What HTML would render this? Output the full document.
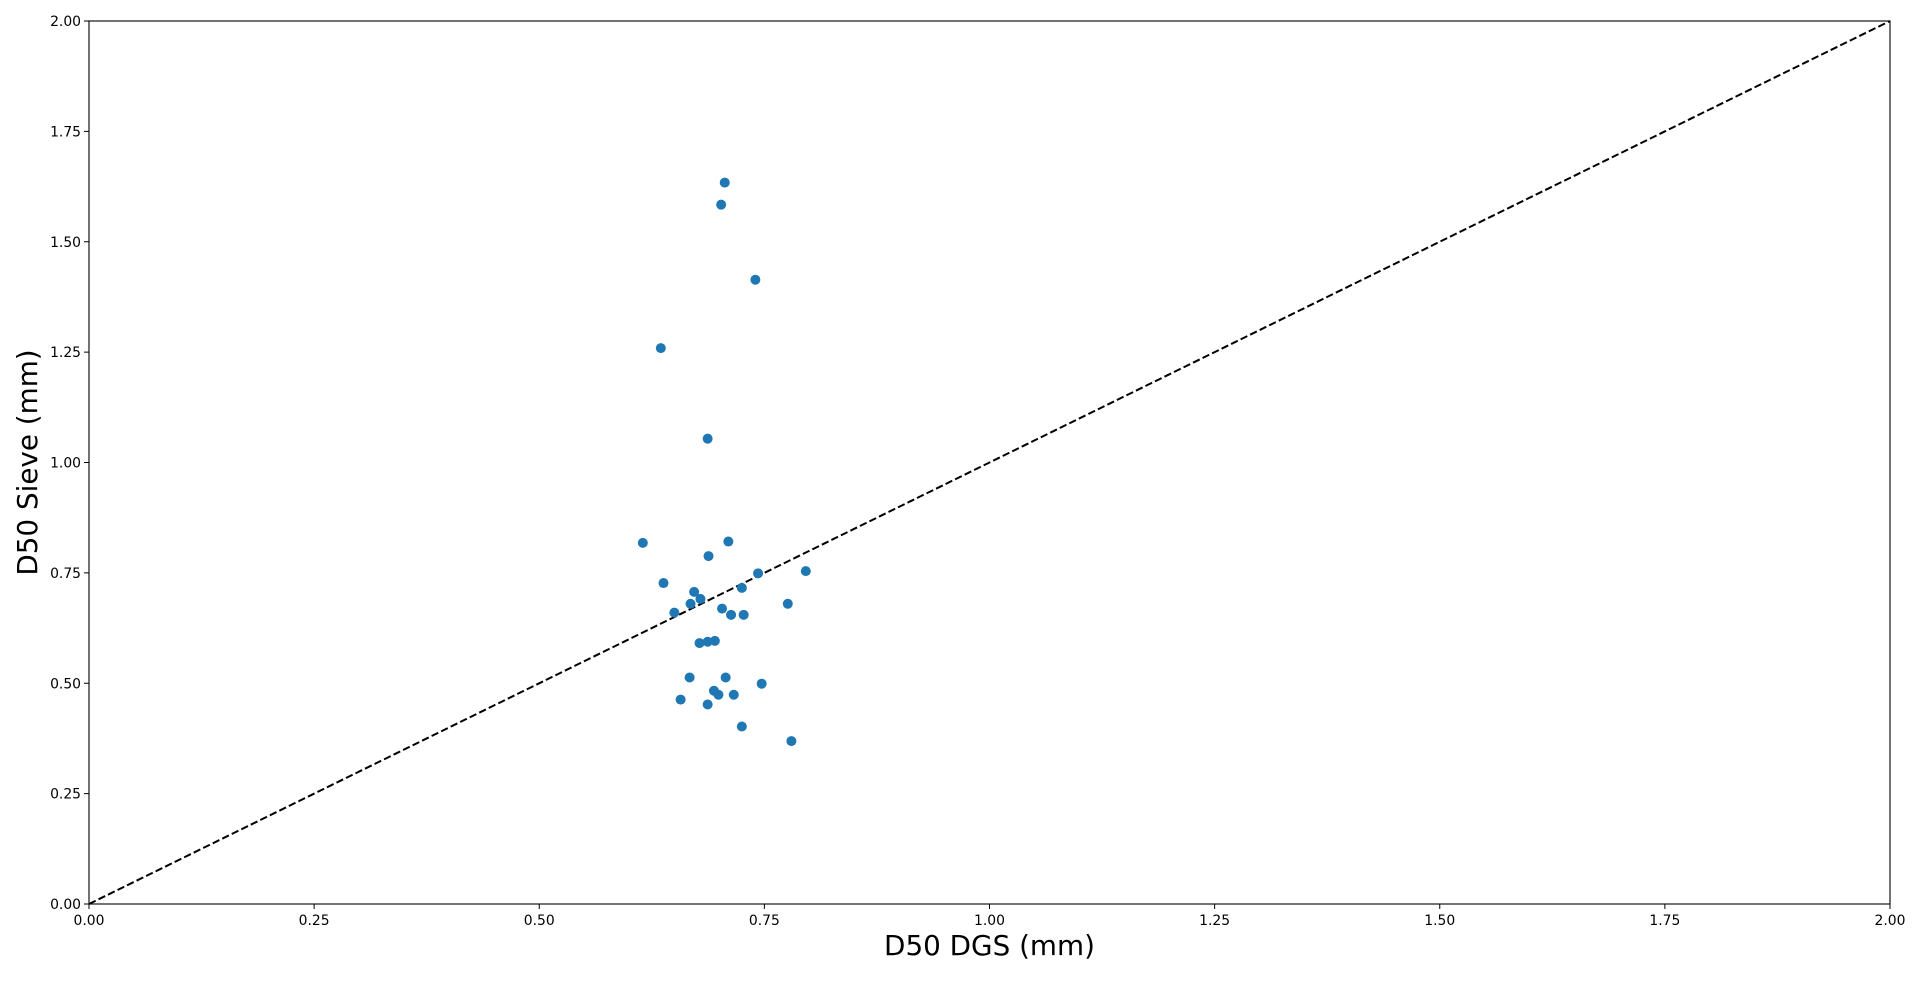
<!DOCTYPE html>
<html><head><meta charset="utf-8"><style>
html,body{margin:0;padding:0;background:#fff;}
svg text{font-family:"DejaVu Sans","Liberation Sans",sans-serif;}
</style></head><body>
<svg id="chart" width="1920" height="976" viewBox="0 0 1920 976" xmlns="http://www.w3.org/2000/svg">
<rect width="1920" height="976" fill="#fff"/>
<g id="marks"></g>
<g id="axes"></g>
</svg>
<script>
const xValues=[0.706,0.702,0.740,0.635,0.687,0.615,0.710,0.688,0.638,0.672,0.679,0.743,0.796,0.725,0.668,0.650,0.703,0.776,0.713,0.727,0.678,0.687,0.695,0.667,0.707,0.747,0.694,0.699,0.716,0.657,0.687,0.725,0.780];
const yValues=[1.634,1.584,1.414,1.259,1.054,0.818,0.821,0.788,0.727,0.707,0.691,0.749,0.754,0.716,0.680,0.660,0.669,0.680,0.655,0.655,0.591,0.594,0.596,0.513,0.513,0.499,0.483,0.474,0.474,0.463,0.452,0.402,0.369];
const xTicks=[0,0.25,0.5,0.75,1.0,1.25,1.5,1.75,2.0];
const yTicks=[0,0.25,0.5,0.75,1.0,1.25,1.5,1.75,2.0];
const L=89,R=1890,T=21,B=904;
const sx=v=>L+(v-0)/(2-0)*(R-L);
const sy=v=>B-(v-0)/(2-0)*(B-T);
const NS='http://www.w3.org/2000/svg';
const marks=document.getElementById('marks'),axes=document.getElementById('axes');
function mk(tag,attrs,parent){const e=document.createElementNS(NS,tag);for(const k in attrs)e.setAttribute(k,attrs[k]);parent.appendChild(e);return e;}
const line=mk('line',{x1:sx(0),y1:sy(0),x2:sx(2),y2:sy(2),stroke:'#000','stroke-width':2,'stroke-dasharray':'7.4,3.2'},marks);


xValues.forEach((x,i)=>{
  const c=mk('circle',{cx:sx(x),cy:sy(yValues[i]),r:5,fill:'#1f77b4'},marks);
  
  
});
const frame=mk('rect',{x:L,y:T,width:R-L,height:B-T,fill:'none',stroke:'#000','stroke-width':1.1},axes);


xTicks.forEach(t=>{
  const x=sx(t);
  const tk=mk('line',{x1:x,y1:B,x2:x,y2:B+5,stroke:'#000','stroke-width':1},axes);
  
  
  const tx=mk('text',{x:x,y:B+21,'text-anchor':'middle','font-size':13.9},axes);
  tx.textContent=t.toFixed(2);
  
  
});
yTicks.forEach(t=>{
  const y=sy(t);
  const tk=mk('line',{x1:L-5,y1:y,x2:L,y2:y,stroke:'#000','stroke-width':1},axes);
  
  
  const tx=mk('text',{x:L-8,y:y+5,'text-anchor':'end','font-size':13.9},axes);
  tx.textContent=t.toFixed(2);
  
  
});
const xl=mk('text',{x:(L+R)/2,y:955,'text-anchor':'middle','font-size':27.8},axes);
xl.textContent='D50 DGS (mm)';


const yl=mk('text',{x:0,y:0,'text-anchor':'middle','font-size':27.8,transform:`translate(37,${(T+B)/2}) rotate(-90)`},axes);
yl.textContent='D50 Sieve (mm)';


</script>
</body></html>
